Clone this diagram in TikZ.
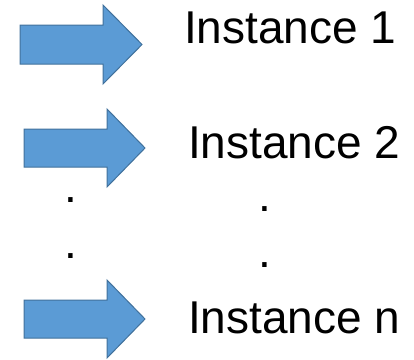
\documentclass[tikz,border=0pt]{standalone}
\usepackage{fontspec}
\setmainfont{Liberation Sans}
\definecolor{arrowfill}{HTML}{5B9BD5}
\definecolor{arrowline}{HTML}{41719C}
\begin{document}
\begin{tikzpicture}[x=1pt,y=-1pt,
  blockarrow/.style={fill=arrowfill,draw=arrowline,line width=1pt,line join=miter},
  label/.style={anchor=base west,inner sep=0pt,font=\fontsize{46}{50}\selectfont},
  dotmark/.style={anchor=base,inner sep=0pt,font=\fontsize{46}{50}\selectfont}]
\useasboundingbox (0,0) rectangle (414,359);
\draw[blockarrow] (20,25) -- (103,25) -- (103,5) -- (142,44.5) -- (103,84) -- (103,64) -- (20,64) -- cycle;
\draw[blockarrow] (24,129) -- (107,129) -- (107,109) -- (145,148) -- (107,187) -- (107,167) -- (24,167) -- cycle;
\draw[blockarrow] (24,300) -- (107,300) -- (107,280) -- (145,319) -- (107,358) -- (107,338) -- (24,338) -- cycle;
\node[label] (i1) at (184,43) {Instance 1};
\node[label] (i2) at (188,158) {Instance 2};
\node[label] (in) at (188,333) {Instance n};
\node[dotmark] (d1) at (71,202) {.};
\node[dotmark] (d2) at (265,211) {.};
\node[dotmark] (d3) at (71,258) {.};
\node[dotmark] (d4) at (265,267) {.};
\end{tikzpicture}
\end{document}
